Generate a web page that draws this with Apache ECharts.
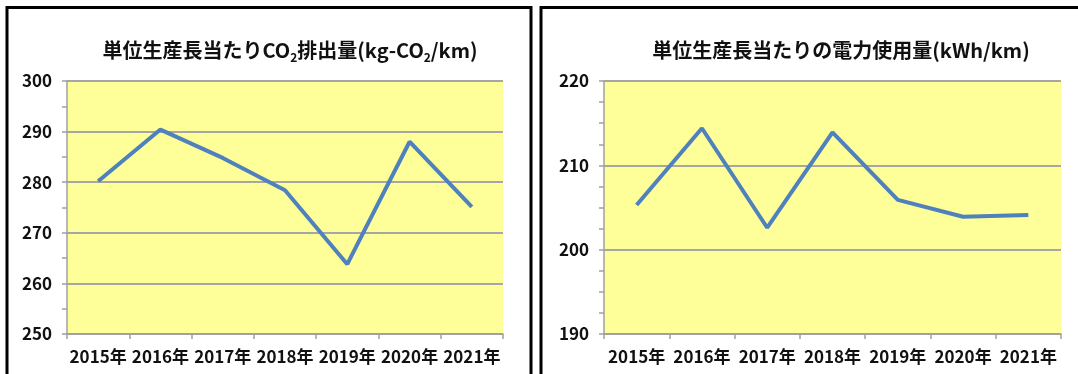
<!DOCTYPE html>
<html>
<head>
<meta charset="utf-8">
<script src="https://cdn.jsdelivr.net/npm/echarts@6/dist/echarts.min.js"></script>
<style>
  html, body { margin: 0; padding: 0; background: #fff; }
  #chart { width: 1078px; height: 374px; }
</style>
</head>
<body>
<div id="chart"></div>
<script>
// データ
var years = ['2015年', '2016年', '2017年', '2018年', '2019年', '2020年', '2021年'];
var co2PerLength = [280.2, 290.4, 284.8, 278.4, 263.8, 288.0, 275.1];
var powerPerLength = [205.3, 214.4, 202.6, 213.9, 205.9, 203.9, 204.1];

var FONT = '"Noto Sans CJK JP", sans-serif';
var myChart = echarts.init(document.getElementById('chart'));

function yAxisOf(idx, min, max, minorSplit) {
  return {
    type: 'value', gridIndex: idx, min: min, max: max, interval: 10,
    axisLine: { show: true, lineStyle: { color: '#a0a0a0', width: 1.5 } },
    axisTick: { show: true, length: 5, lineStyle: { color: '#a0a0a0', width: 1.5 } },
    minorTick: { show: true, splitNumber: minorSplit, length: 5, lineStyle: { color: '#a0a0a0', width: 1.5 } },
    splitLine: { show: true, lineStyle: { color: '#a6a6a6', width: 2 } },
    axisLabel: { color: '#111', fontFamily: FONT, fontWeight: 'bold', fontSize: 17, margin: 15 }
  };
}
function xAxisOf(idx) {
  return {
    type: 'category', gridIndex: idx, data: years, boundaryGap: true,
    axisLine: { show: true, lineStyle: { color: '#a0a0a0', width: 1.5 } },
    axisTick: { show: true, length: 5, interval: 0, lineStyle: { color: '#a0a0a0', width: 1.5 } },
    axisLabel: { color: '#111', fontFamily: FONT, fontWeight: 'bold', fontSize: 17, margin: 14, interval: 0 }
  };
}
var titleRich = {
  t: { fontFamily: FONT, fontSize: 20, fontWeight: 'bold', color: '#111', lineHeight: 26 },
  s: { fontFamily: FONT, fontSize: 12, fontWeight: 'bold', color: '#111', lineHeight: 14, verticalAlign: 'bottom', padding: [8, 0, 0, 0] }
};

myChart.setOption({
  animation: false,
  title: [
    { text: '{t|単位生産長当たりCO}{s|2}{t|排出量(kg-CO}{s|2}{t|/km)}', left: 285, top: 32, textAlign: 'center',
      textStyle: { rich: titleRich } },
    { text: '{t|単位生産長当たりの電力使用量(kWh/km)}', left: 836, top: 32, textAlign: 'center',
      textStyle: { rich: titleRich } }
  ],
  graphic: [
    { type: 'rect', shape: { x: 7, y: 7.5, width: 524, height: 420 }, style: { fill: 'none', stroke: '#000', lineWidth: 3 } },
    { type: 'rect', shape: { x: 541, y: 7.5, width: 560, height: 420 }, style: { fill: 'none', stroke: '#000', lineWidth: 3 } }
  ],
  grid: [
    { left: 67, top: 81, width: 436, height: 253, show: true, backgroundColor: '#ffff99', borderWidth: 0 },
    { left: 604, top: 81, width: 457, height: 253, show: true, backgroundColor: '#ffff99', borderWidth: 0 }
  ],
  xAxis: [xAxisOf(0), xAxisOf(1)],
  yAxis: [yAxisOf(0, 250, 300, 2), yAxisOf(1, 190, 220, 4)],
  series: [
    { type: 'line', xAxisIndex: 0, yAxisIndex: 0, data: co2PerLength, symbol: 'none',
      lineStyle: { color: '#4f81bd', width: 4 } },
    { type: 'line', xAxisIndex: 1, yAxisIndex: 1, data: powerPerLength, symbol: 'none',
      lineStyle: { color: '#4f81bd', width: 4 } }
  ]
});
</script>
</body>
</html>
